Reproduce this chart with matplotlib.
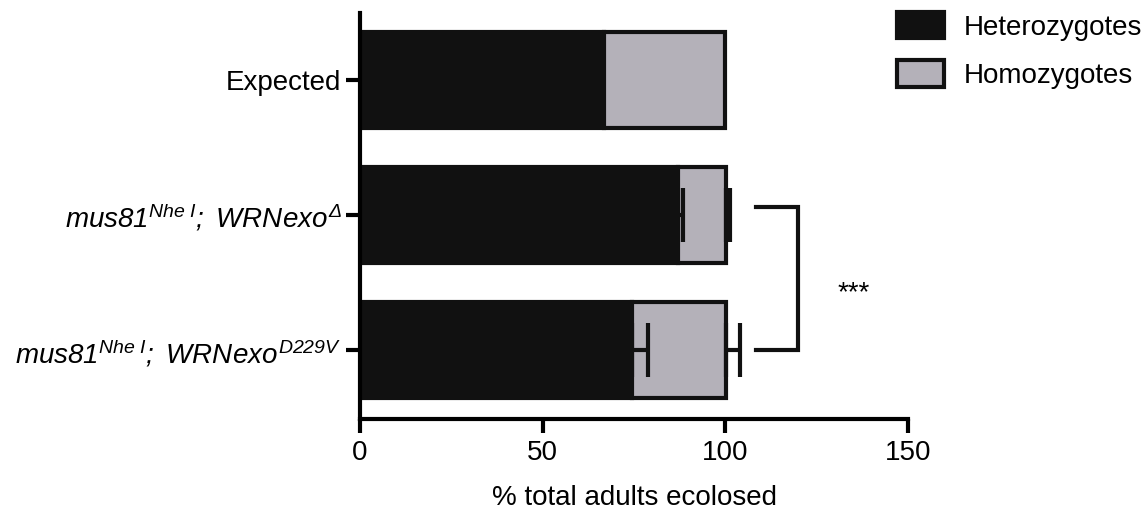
import matplotlib
matplotlib.use("Agg")
import matplotlib.pyplot as plt

plt.rcParams["font.family"] = ["Liberation Sans", "DejaVu Sans"]
plt.rcParams["mathtext.fontset"] = "custom"
plt.rcParams["mathtext.rm"] = "Liberation Sans:italic"
plt.rcParams["mathtext.it"] = "Liberation Sans:italic"

# Dados
categorias = [
    "Expected",
    r"$mus81^{Nhe\ I};\ WRNexo^{\Delta}$",
    r"$mus81^{Nhe\ I};\ WRNexo^{D229V}$",
]
heterozigotos = [66.7, 87.0, 74.5]
homozigotos = [33.3, 13.1, 25.8]
erro_het = [0, 1.4, 4.3]
erro_total = [0, 1.3, 3.7]
ticks_x = [0, 50, 100, 150]

preto = "#111111"
cinza = "#b4b1b9"
lw = 3

fig = plt.figure(figsize=(11.44, 5.14), dpi=100)
ax = fig.add_axes([0.3147, 0.1848, 0.479, 0.79])

pos = [2, 1, 0]
total = [h + m for h, m in zip(heterozigotos, homozigotos)]

b1 = ax.barh(pos, heterozigotos, height=0.71, color=preto, edgecolor=preto,
             linewidth=lw, label="Heterozygotes", zorder=2)
b2 = ax.barh(pos, homozigotos, left=heterozigotos, height=0.71, color=cinza,
             edgecolor=preto, linewidth=lw, label="Homozygotes", zorder=2)

# barras de erro (so para os dois genotipos)
for i in range(1, 3):
    ax.errorbar(heterozigotos[i], pos[i], xerr=[[0], [erro_het[i]]], fmt="none",
                ecolor=preto, elinewidth=lw, capsize=19.5, capthick=lw, zorder=3)
    ax.errorbar(total[i], pos[i], xerr=[[0], [erro_total[i]]], fmt="none",
                ecolor=preto, elinewidth=lw, capsize=19.5, capthick=lw, zorder=3)

# colchete de significancia
ax.plot([108.3, 119.8, 119.8, 108.3], [1.06, 1.06, 0.0, 0.0], color=preto,
        linewidth=lw, clip_on=False, solid_joinstyle="miter")
ax.text(135, 0.42, "***", ha="center", va="center", fontsize=20)

ax.set_xlim(0, 150)
ax.set_ylim(-0.507, 2.496)
ax.set_xticks(ticks_x)
ax.set_yticks(pos)
ax.set_yticklabels(categorias)
ax.set_xlabel("% total adults ecolosed", fontsize=20, labelpad=14)

ax.tick_params(axis="x", labelsize=20, length=10, width=lw, pad=5)
ax.tick_params(axis="y", labelsize=20, length=10, width=lw, pad=3.5)
for s in ["top", "right"]:
    ax.spines[s].set_visible(False)
for s in ["left", "bottom"]:
    ax.spines[s].set_linewidth(lw)

fig.legend(handles=[b1, b2], loc="upper left", bbox_to_anchor=(0.784, 0.977),
           frameon=False, fontsize=20, borderpad=0, handlelength=1.7,
           handleheight=1.1, labelspacing=0.7, handletextpad=0.7,
           borderaxespad=0)

plt.savefig("out.png", dpi=100)
